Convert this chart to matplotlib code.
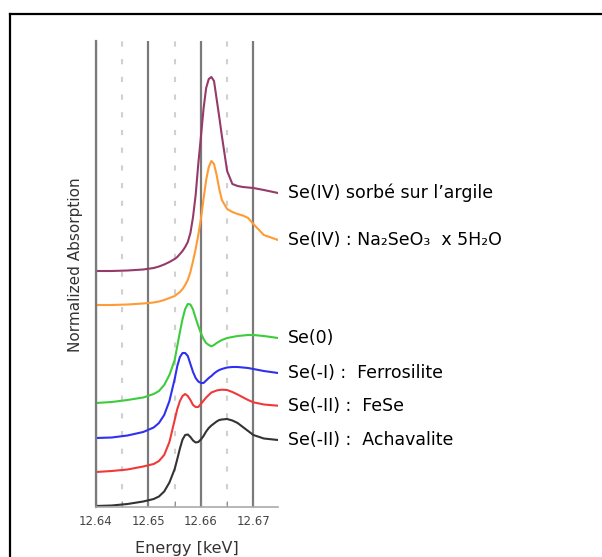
import matplotlib
matplotlib.use("Agg")
import matplotlib.pyplot as plt
from matplotlib.lines import Line2D
from matplotlib.ticker import MultipleLocator

# energy grid (keV)
energy = [12.640, 12.643, 12.646, 12.649, 12.651, 12.652, 12.653, 12.654, 12.655,
          12.6555, 12.656, 12.6565, 12.657, 12.6575, 12.658, 12.6585, 12.659, 12.6595,
          12.660, 12.6605, 12.661, 12.6615, 12.662, 12.6625, 12.663, 12.6635, 12.664,
          12.665, 12.666, 12.667, 12.668, 12.669, 12.670, 12.672, 12.6747]

# stacked normalized absorption
se4_sorbed = [2.35, 2.35, 2.355, 2.365, 2.38, 2.395, 2.415, 2.44, 2.47,
              2.49, 2.52, 2.55, 2.59, 2.64, 2.73, 2.89, 3.11, 3.42,
              3.69, 3.97, 4.18, 4.27, 4.29, 4.25, 4.07, 3.89, 3.70,
              3.35, 3.22, 3.20, 3.19, 3.185, 3.18, 3.16, 3.13]
se4_na2seo3 = [2.01, 2.01, 2.015, 2.025, 2.035, 2.045, 2.06, 2.08, 2.10,
               2.12, 2.14, 2.17, 2.21, 2.26, 2.34, 2.45, 2.57, 2.71,
               2.87, 3.07, 3.26, 3.39, 3.45, 3.42, 3.31, 3.17, 3.06,
               2.97, 2.94, 2.92, 2.905, 2.88, 2.82, 2.71, 2.66]
se0 = [1.03, 1.04, 1.06, 1.085, 1.12, 1.15, 1.21, 1.31, 1.46,
       1.60, 1.74, 1.87, 1.97, 2.02, 2.015, 1.965, 1.88, 1.80,
       1.73, 1.67, 1.63, 1.61, 1.597, 1.61, 1.63, 1.645, 1.66,
       1.68, 1.69, 1.70, 1.705, 1.71, 1.71, 1.70, 1.68]
se_m1_ferrosilite = [0.68, 0.685, 0.705, 0.74, 0.785, 0.83, 0.91, 1.05, 1.27,
                     1.40, 1.49, 1.53, 1.53, 1.50, 1.42, 1.34, 1.28, 1.245,
                     1.23, 1.23, 1.255, 1.28, 1.30, 1.325, 1.345, 1.36, 1.37,
                     1.385, 1.39, 1.39, 1.385, 1.38, 1.37, 1.35, 1.33]
se_m2_fese = [0.34, 0.35, 0.365, 0.395, 0.42, 0.45, 0.51, 0.64, 0.86,
              0.97, 1.05, 1.10, 1.12, 1.10, 1.06, 1.01, 0.99, 0.99,
              1.02, 1.053, 1.085, 1.11, 1.135, 1.145, 1.155, 1.16, 1.163,
              1.16, 1.14, 1.115, 1.087, 1.06, 1.037, 1.015, 1.003]
se_m2_achavalite = [0.00, 0.005, 0.02, 0.045, 0.07, 0.095, 0.145, 0.235, 0.37,
                    0.47, 0.575, 0.665, 0.71, 0.715, 0.69, 0.655, 0.635, 0.64,
                    0.665, 0.70, 0.745, 0.78, 0.805, 0.825, 0.845, 0.86, 0.865,
                    0.87, 0.855, 0.83, 0.79, 0.75, 0.71, 0.675, 0.66]

series = [se4_sorbed, se4_na2seo3, se0, se_m1_ferrosilite, se_m2_fese, se_m2_achavalite]
labels = ["Se(IV) sorbé sur l\u2019argile",
          "Se(IV) : Na\u2082SeO\u2083  x 5H\u2082O",
          "Se(0)",
          "Se(-I) :  Ferrosilite",
          "Se(-II) :  FeSe",
          "Se(-II) :  Achavalite"]
colors = ["#963a68", "#ff9a35", "#3ccc3c", "#3030f0", "#f03a3a", "#333333"]

fig = plt.figure(figsize=(6.02, 5.57), dpi=100)
ax = fig.add_axes([96 / 602, 1 - 507 / 557, 182 / 602, 466 / 557])

for y, c in zip(series, colors):
    ax.plot(energy, y, color=c, lw=1.5, solid_joinstyle="round")

ax.set_xlim(12.64, 12.6747)
ax.set_ylim(-0.01, 4.65)

ax.xaxis.set_major_locator(MultipleLocator(0.01))
ax.xaxis.set_minor_locator(MultipleLocator(0.005))
ax.set_yticks([])
ax.grid(which="major", axis="x", color="#7a7a7a", lw=1.6)
ax.grid(which="minor", axis="x", color="#d0d0d0", lw=1.5, linestyle=(0, (2.5, 6)))
ax.set_axisbelow(True)
ax.tick_params(axis="x", which="both", direction="in", length=4, color="#888888",
               labelsize=8.5, labelcolor="#444444", pad=6)
ax.set_xticks([12.64, 12.65, 12.66, 12.67])
ax.set_xticklabels(["12.64", "12.65", "12.66", "12.67"])

for side in ["top", "right"]:
    ax.spines[side].set_visible(False)
ax.spines["left"].set_color("#7a7a7a")
ax.spines["left"].set_linewidth(1.6)
ax.spines["bottom"].set_color("#aaaaaa")
ax.spines["bottom"].set_linewidth(1.2)

ax.set_xlabel("Energy [keV]", fontsize=11.5, color="#333333", labelpad=9)
ax.set_ylabel("Normalized Absorption", fontsize=11, color="#333333")
ax.yaxis.set_label_coords(-0.07, 0.521)

# labels at the right end of each spectrum
for y, lab in zip(series, labels):
    ax.annotate(lab, xy=(1.0, y[-1]), xycoords=("axes fraction", "data"),
                xytext=(7, 0), textcoords="offset points",
                ha="left", va="center", fontsize=12.5, color="black",
                annotation_clip=False)

# outer frame (top and left only)
fig.add_artist(Line2D([9.5 / 602, 1.0], [1 - 14 / 557, 1 - 14 / 557],
                      transform=fig.transFigure, color="black", lw=1.6))
fig.add_artist(Line2D([9.5 / 602, 9.5 / 602], [0.0, 1 - 14 / 557],
                      transform=fig.transFigure, color="black", lw=1.6))

fig.savefig("out.png", dpi=100)
